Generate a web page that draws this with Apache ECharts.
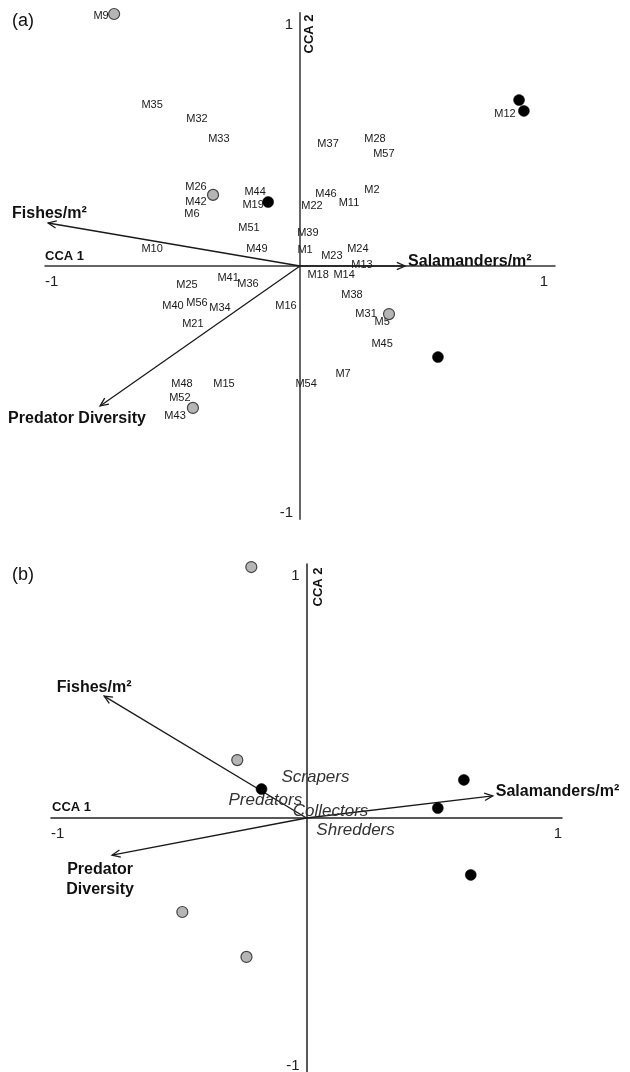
<!DOCTYPE html>
<html><head><meta charset="utf-8">
<script src="https://cdn.jsdelivr.net/npm/echarts@6/dist/echarts.min.js"></script>
<style>html,body{margin:0;padding:0;background:#fff}#c{width:630px;height:1072px}</style>
</head><body><div id="c"></div>
<script>
// ---------- DATA: panel (a) ----------
const siteNamesA = ['M9','M35','M32','M33','M26','M42','M6','M44','M19','M51','M10','M49','M46','M2','M22','M11','M39','M1','M23','M24','M13','M18','M14','M41','M36','M38','M12','M37','M28','M57','M25','M40','M56','M34','M16','M21','M48','M15','M52','M43','M54','M31','M5','M45','M7'];
const siteXA = [-0.780,-0.580,-0.404,-0.318,-0.408,-0.408,-0.424,-0.176,-0.184,-0.200,-0.580,-0.169,0.102,0.282,0.047,0.192,0.031,0.020,0.125,0.227,0.243,0.071,0.173,-0.282,-0.204,0.204,0.804,0.110,0.294,0.329,-0.443,-0.498,-0.404,-0.314,-0.055,-0.420,-0.463,-0.298,-0.471,-0.490,0.024,0.259,0.322,0.322,0.169];
const siteYA = [0.988,0.636,0.581,0.502,0.312,0.253,0.206,0.292,0.241,0.150,0.067,0.067,0.285,0.300,0.237,0.249,0.130,0.063,0.040,0.067,0.004,-0.036,-0.036,-0.047,-0.071,-0.115,0.601,0.482,0.502,0.443,-0.075,-0.158,-0.146,-0.166,-0.158,-0.229,-0.466,-0.466,-0.522,-0.593,-0.466,-0.190,-0.221,-0.308,-0.427];
const grayXA = [-0.729,-0.341,0.349,-0.420];
const grayYA = [0.996,0.281,-0.190,-0.561];
const blackXA = [-0.125,0.859,0.878,0.541];
const blackYA = [0.253,0.656,0.613,-0.360];
const arrowNamesA = ['Fishes/m²','Salamanders/m²','Predator Diversity'];
const arrowXA = [-0.988,0.412,-0.784];
const arrowYA = [0.170,0.000,-0.553];

// ---------- DATA: panel (b) ----------
const grayXB = [-0.216,-0.271,-0.486,-0.235];
const grayYB = [0.988,0.228,-0.370,-0.547];
const blackXB = [-0.176,0.616,0.514,0.643];
const blackYB = [0.114,0.150,0.039,-0.224];
const taxaNamesB = ['Scrapers','Predators','Collectors','Shredders'];
const taxaXB = [0.035,-0.161,0.094,0.192];
const taxaYB = [0.161,0.071,0.028,-0.047];
const arrowNamesB = ['Fishes/m²','Salamanders/m²','Predator\nDiversity'];
const arrowXB = [-0.792,0.729,-0.761];
const arrowYB = [0.480,0.087,-0.146];

// ---------- tick labels ----------
const tickLabels = [-1, 1];

// ---------- styles / layout ----------
const FONT = '"Liberation Sans", Arial, Helvetica, sans-serif';
const arrowPlaceA = [{dx:-36,dy:-9,align:'left'},{dx:3,dy:-4,align:'left'},{dx:-92,dy:13,align:'left'}];
const arrowPlaceB = [{dx:-10,dy:-8,align:'center'},{dx:3,dy:-4,align:'left'},{dx:-12,dy:25,align:'center'}];

function pairs(xs, ys){ return xs.map((x,i)=>[x, ys[i]]); }

function txt(x, y, text, font, fill, align, valign, extra){
  return Object.assign({type:'text', x:x, y:y, style:{text:text, font:font, fill:fill,
    align:align, textAlign:align, verticalAlign:valign, textVerticalAlign:valign}}, extra || {});
}

function textSeries(gi, xs, ys, names, font, color){
  return {type:'custom', xAxisIndex:gi, yAxisIndex:gi, z:3, silent:true, clip:false,
    data: pairs(xs, ys),
    renderItem:(params, api)=>{
      const p = api.coord([api.value(0), api.value(1)]);
      return txt(p[0], p[1], names[params.dataIndex], font, color, 'center', 'middle');
    }};
}

// tick labels placed at the axis values through the library's scales
function tickSeries(gi, xMaxShift){
  return {type:'custom', xAxisIndex:gi, yAxisIndex:gi, z:3, silent:true, clip:false,
    data: tickLabels.map(v=>[v]),
    renderItem:(params, api)=>{
      const v = api.value(0);
      const f = '15px '+FONT;
      const px = api.coord([v, 0]);
      const py = api.coord([0, v]);
      const xl = v < 0 ? txt(px[0], px[1]+8, String(v), f, '#222', 'left', 'top')
                       : txt(px[0]-xMaxShift, px[1]+8, String(v), f, '#222', 'right', 'top');
      const yl = v < 0 ? txt(py[0]-7, py[1]+1, String(v), f, '#222', 'right', 'bottom')
                       : txt(py[0]-7, py[1]+4, String(v), f, '#222', 'right', 'top');
      return {type:'group', children:[xl, yl]};
    }};
}

function arrowSeries(gi, xs, ys, names, place){
  return {type:'custom', xAxisIndex:gi, yAxisIndex:gi, z:2, silent:true, clip:false,
    data: pairs(xs, ys),
    renderItem:(params, api)=>{
      const i = params.dataIndex;
      const o = api.coord([0,0]);
      const t = api.coord([api.value(0), api.value(1)]);
      const ang = Math.atan2(t[1]-o[1], t[0]-o[0]);
      const L = 9, th = 0.42;
      const h1 = [t[0]-L*Math.cos(ang-th), t[1]-L*Math.sin(ang-th)];
      const h2 = [t[0]-L*Math.cos(ang+th), t[1]-L*Math.sin(ang+th)];
      const pl = place[i];
      const label = txt(t[0]+pl.dx, t[1]+pl.dy, names[i], 'bold 16px '+FONT, '#111', pl.align, 'middle');
      label.style.lineHeight = 20; label.style.textLineHeight = 20;
      return {type:'group', children:[
        {type:'line', shape:{x1:o[0],y1:o[1],x2:t[0],y2:t[1]}, style:{stroke:'#1a1a1a', lineWidth:1.3}},
        {type:'polyline', shape:{points:[h1,t,h2]}, style:{stroke:'#1a1a1a', lineWidth:1.3, fill:'none'}},
        label
      ]};
    }};
}

function pointSeries(gi, xs, ys, gray){
  return {type:'scatter', xAxisIndex:gi, yAxisIndex:gi, z:5, silent:true, clip:false,
    symbolSize:11, data: pairs(xs, ys),
    itemStyle: gray ? {color:'#b5b5b5', borderColor:'#444', borderWidth:1.2, opacity:1}
                    : {color:'#000', borderColor:'#000', borderWidth:0.5, opacity:1}};
}

function xAx(gi, color){
  return {type:'value', gridIndex:gi, min:-1, max:1, interval:1,
    axisLine:{onZero:true, lineStyle:{color:color, width:1.5}},
    axisTick:{show:false}, splitLine:{show:false}, axisLabel:{show:false}};
}
function yAx(gi, color, width){
  return {type:'value', gridIndex:gi, min:-1, max:1, interval:1,
    axisLine:{onZero:true, lineStyle:{color:color, width:width}},
    axisTick:{show:false}, splitLine:{show:false}, axisLabel:{show:false}};
}

const chart = echarts.init(document.getElementById('c'), null, {renderer:'canvas'});
chart.setOption({
  animation:false,
  backgroundColor:'#fff',
  grid:[{left:45, top:13, width:510, height:506, outerBoundsMode:'none', containLabel:false},
        {left:51, top:564, width:511, height:508, outerBoundsMode:'none', containLabel:false}],
  xAxis:[xAx(0, '#333'), xAx(1, '#222')],
  yAxis:[yAx(0, '#666', 2), yAx(1, '#222', 1.5)],
  graphic:[
    {type:'text', left:12, top:12, style:{text:'(a)', font:'18px '+FONT, fill:'#111'}},
    {type:'text', left:12, top:566, style:{text:'(b)', font:'18px '+FONT, fill:'#111'}},
    {type:'text', x:45, y:256, style:{text:'CCA 1', font:'bold 13px '+FONT, fill:'#111', align:'left', verticalAlign:'middle'}},
    {type:'text', x:52, y:807, style:{text:'CCA 1', font:'bold 13px '+FONT, fill:'#111', align:'left', verticalAlign:'middle'}},
    {type:'text', x:309, y:34, rotation:Math.PI/2, style:{text:'CCA 2', font:'bold 13px '+FONT, fill:'#111', align:'center', verticalAlign:'middle'}},
    {type:'text', x:318, y:587, rotation:Math.PI/2, style:{text:'CCA 2', font:'bold 13px '+FONT, fill:'#111', align:'center', verticalAlign:'middle'}}
  ],
  series:[
    tickSeries(0, 7),
    tickSeries(1, 0),
    textSeries(0, siteXA, siteYA, siteNamesA, '11px '+FONT, '#1a1a1a'),
    arrowSeries(0, arrowXA, arrowYA, arrowNamesA, arrowPlaceA),
    pointSeries(0, grayXA, grayYA, true),
    pointSeries(0, blackXA, blackYA, false),
    arrowSeries(1, arrowXB, arrowYB, arrowNamesB, arrowPlaceB),
    textSeries(1, taxaXB, taxaYB, taxaNamesB, 'italic 17px '+FONT, '#333'),
    pointSeries(1, grayXB, grayYB, true),
    pointSeries(1, blackXB, blackYB, false)
  ]
});
</script></body></html>
